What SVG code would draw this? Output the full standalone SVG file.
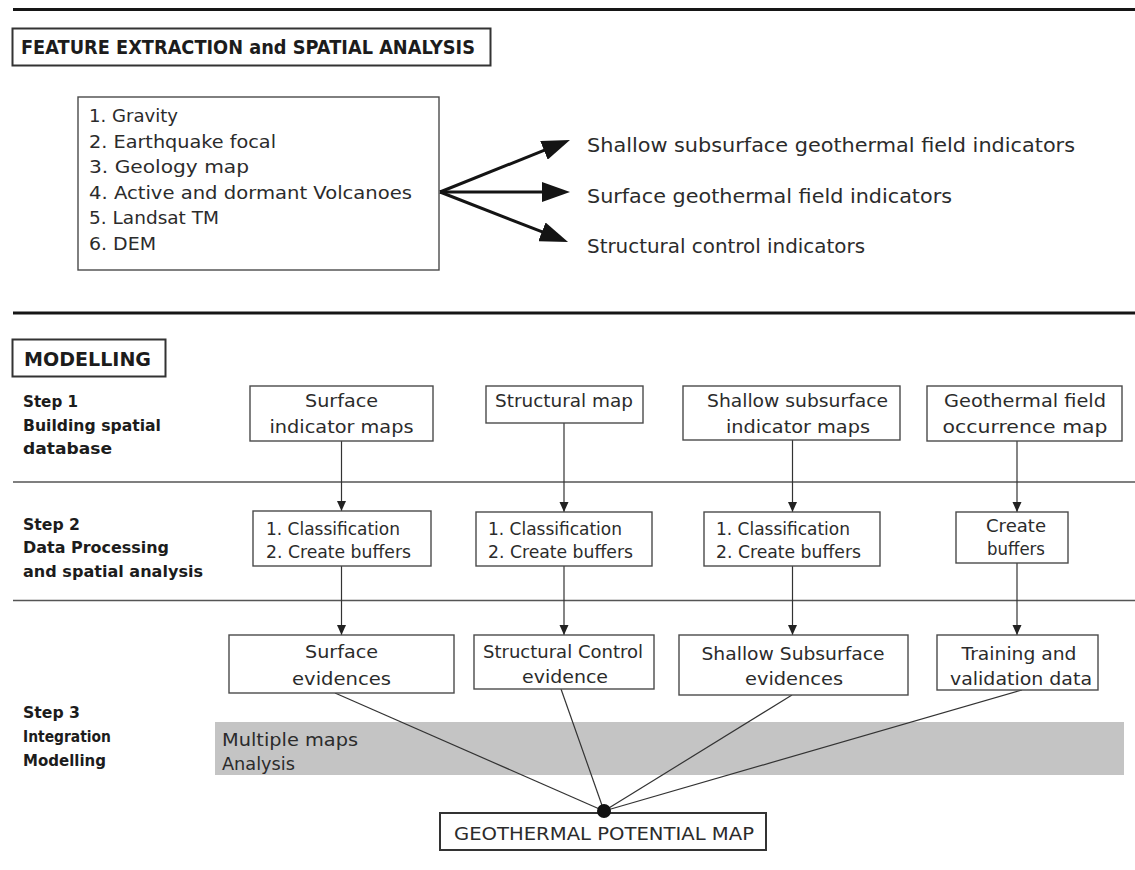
<svg xmlns="http://www.w3.org/2000/svg" width="1135" height="870" viewBox="0 0 1135 870">
<style>
  .t{font-family:"DejaVu Sans","Liberation Sans",sans-serif;font-size:18px;fill:#2b2b2b}
  .tc{text-anchor:middle}
  .b{font-family:"DejaVu Sans","Liberation Sans",sans-serif;font-weight:bold;fill:#1c1c1c}
  .big{font-family:"DejaVu Sans","Liberation Sans",sans-serif;font-size:20px;fill:#2b2b2b}
  .box{fill:#fff;stroke:#4a4a4a;stroke-width:1.4}
  .hbox{fill:#fff;stroke:#333;stroke-width:2}
  .rule{stroke:#161616;stroke-width:3}
  .thin{stroke:#555;stroke-width:1.3}
  .conn{stroke:#333;stroke-width:1.2;fill:none}
  .fan{stroke:#141414;stroke-width:3;fill:none}
</style>
<defs>
  <marker id="big" markerUnits="userSpaceOnUse" markerWidth="28" markerHeight="20" refX="8" refY="10" orient="auto">
    <path d="M0,0 L28,10 L0,20 z" fill="#141414"/>
  </marker>
  <marker id="sm" markerUnits="userSpaceOnUse" markerWidth="10" markerHeight="10" refX="10" refY="5" orient="auto">
    <path d="M0,0.5 L10,5 L0,9.5 z" fill="#222"/>
  </marker>
</defs>
<rect width="1135" height="870" fill="#fff"/>

<g id="rules">
  <line class="rule" x1="13" y1="9.5" x2="1135" y2="9.5"/>
  <line class="rule" x1="13" y1="313" x2="1135" y2="313"/>
  <line class="thin" x1="13" y1="482" x2="1135" y2="482"/>
  <line class="thin" x1="13" y1="600.5" x2="1135" y2="600.5"/>
</g>

<g id="title-feature">
  <rect class="hbox" x="12.5" y="28.5" width="478" height="37"/>
  <text class="b" x="21" y="54" font-size="20" textLength="454" lengthAdjust="spacingAndGlyphs">FEATURE EXTRACTION and SPATIAL ANALYSIS</text>
</g>

<g id="inputs">
  <rect class="box" x="78" y="97" width="361" height="173"/>
  <text class="t" x="89" y="122" textLength="89" lengthAdjust="spacingAndGlyphs">1. Gravity</text>
  <text class="t" x="89" y="148" textLength="187" lengthAdjust="spacingAndGlyphs">2. Earthquake focal</text>
  <text class="t" x="89" y="173" textLength="160" lengthAdjust="spacingAndGlyphs">3. Geology map</text>
  <text class="t" x="89" y="199" textLength="323" lengthAdjust="spacingAndGlyphs">4. Active and dormant Volcanoes</text>
  <text class="t" x="89" y="224" textLength="130" lengthAdjust="spacingAndGlyphs">5. Landsat TM</text>
  <text class="t" x="89" y="250" textLength="67" lengthAdjust="spacingAndGlyphs">6. DEM</text>
</g>

<g id="out-shallow"><text class="big" x="587" y="152" textLength="488" lengthAdjust="spacingAndGlyphs">Shallow subsurface geothermal field indicators</text></g>
<g id="out-surface"><text class="big" x="587" y="203" textLength="365" lengthAdjust="spacingAndGlyphs">Surface geothermal field indicators</text></g>
<g id="out-structural"><text class="big" x="587" y="253" textLength="278" lengthAdjust="spacingAndGlyphs">Structural control indicators</text></g>

<g id="title-modelling">
  <rect class="hbox" x="12.5" y="339.5" width="153" height="37"/>
  <text class="b" x="24" y="366" font-size="20" textLength="127" lengthAdjust="spacingAndGlyphs">MODELLING</text>
</g>

<g id="step1-label" class="b" font-size="16.5">
  <text x="23" y="407" textLength="55" lengthAdjust="spacingAndGlyphs">Step 1</text>
  <text x="23" y="431" textLength="138" lengthAdjust="spacingAndGlyphs">Building spatial</text>
  <text x="23" y="454" textLength="89" lengthAdjust="spacingAndGlyphs">database</text>
</g>
<g id="step2-label" class="b" font-size="16.5">
  <text x="23" y="530" textLength="57" lengthAdjust="spacingAndGlyphs">Step 2</text>
  <text x="23" y="553" textLength="146" lengthAdjust="spacingAndGlyphs">Data Processing</text>
  <text x="23" y="577" textLength="180" lengthAdjust="spacingAndGlyphs">and spatial analysis</text>
</g>
<g id="step3-label" class="b" font-size="16.5">
  <text x="23" y="718" textLength="57" lengthAdjust="spacingAndGlyphs">Step 3</text>
  <text x="23" y="742" textLength="88" lengthAdjust="spacingAndGlyphs">Integration</text>
  <text x="23" y="766" textLength="83" lengthAdjust="spacingAndGlyphs">Modelling</text>
</g>

<g id="band">
  <rect x="215" y="722" width="909" height="53" fill="#c4c4c4"/>
  <text class="t" x="222" y="746" textLength="136" lengthAdjust="spacingAndGlyphs">Multiple maps</text>
  <text class="t" x="222" y="770" textLength="73" lengthAdjust="spacingAndGlyphs">Analysis</text>
</g>

<g id="connectors">
  <line class="fan" x1="440" y1="192" x2="551.4" y2="147.4" marker-end="url(#big)"/>
  <line class="fan" x1="440" y1="192" x2="550" y2="192" marker-end="url(#big)"/>
  <line class="fan" x1="440" y1="192" x2="549.4" y2="234.7" marker-end="url(#big)"/>
  <line class="conn" x1="341.5" y1="441" x2="341.5" y2="511" marker-end="url(#sm)"/>
  <line class="conn" x1="564" y1="423" x2="564" y2="512" marker-end="url(#sm)"/>
  <line class="conn" x1="792.5" y1="440" x2="792.5" y2="512" marker-end="url(#sm)"/>
  <line class="conn" x1="1017" y1="441" x2="1017" y2="512" marker-end="url(#sm)"/>
  <line class="conn" x1="341.5" y1="566" x2="341.5" y2="635" marker-end="url(#sm)"/>
  <line class="conn" x1="564" y1="566" x2="564" y2="635" marker-end="url(#sm)"/>
  <line class="conn" x1="792.5" y1="566" x2="792.5" y2="635" marker-end="url(#sm)"/>
  <line class="conn" x1="1017" y1="563" x2="1017" y2="635" marker-end="url(#sm)"/>
  <line class="conn" x1="335" y1="693" x2="604" y2="811"/>
  <line class="conn" x1="561" y1="689" x2="604" y2="811"/>
  <line class="conn" x1="792" y1="695" x2="604" y2="811"/>
  <line class="conn" x1="1022" y1="690" x2="604" y2="811"/>
</g>

<g id="surface-maps">
  <rect class="box" x="250" y="386" width="183" height="55"/>
  <text class="t tc" x="341.5" y="407" textLength="73" lengthAdjust="spacingAndGlyphs">Surface</text>
  <text class="t tc" x="341.5" y="433" textLength="144" lengthAdjust="spacingAndGlyphs">indicator maps</text>
</g>
<g id="structural-map">
  <rect class="box" x="486" y="386" width="157" height="37"/>
  <text class="t tc" x="564" y="407" textLength="138" lengthAdjust="spacingAndGlyphs">Structural map</text>
</g>
<g id="shallow-maps">
  <rect class="box" x="683" y="386" width="217" height="54"/>
  <text class="t tc" x="797.5" y="407" textLength="181" lengthAdjust="spacingAndGlyphs">Shallow subsurface</text>
  <text class="t tc" x="798" y="433" textLength="144" lengthAdjust="spacingAndGlyphs">indicator maps</text>
</g>
<g id="occurrence-map">
  <rect class="box" x="927" y="386" width="195" height="55"/>
  <text class="t tc" x="1025" y="407" textLength="162" lengthAdjust="spacingAndGlyphs">Geothermal field</text>
  <text class="t tc" x="1025" y="433" textLength="165" lengthAdjust="spacingAndGlyphs">occurrence map</text>
</g>

<g id="proc-surface">
  <rect class="box" x="253" y="511" width="178" height="55"/>
  <text class="t" x="266" y="535" textLength="134" lengthAdjust="spacingAndGlyphs">1. Classification</text>
  <text class="t" x="266" y="558" textLength="145" lengthAdjust="spacingAndGlyphs">2. Create buffers</text>
</g>
<g id="proc-structural">
  <rect class="box" x="476" y="512" width="176" height="54"/>
  <text class="t" x="488" y="535" textLength="134" lengthAdjust="spacingAndGlyphs">1. Classification</text>
  <text class="t" x="488" y="558" textLength="145" lengthAdjust="spacingAndGlyphs">2. Create buffers</text>
</g>
<g id="proc-shallow">
  <rect class="box" x="704" y="512" width="176" height="54"/>
  <text class="t" x="716" y="535" textLength="134" lengthAdjust="spacingAndGlyphs">1. Classification</text>
  <text class="t" x="716" y="558" textLength="145" lengthAdjust="spacingAndGlyphs">2. Create buffers</text>
</g>
<g id="proc-occurrence">
  <rect class="box" x="956" y="512" width="112" height="51"/>
  <text class="t tc" x="1016" y="532" textLength="60" lengthAdjust="spacingAndGlyphs">Create</text>
  <text class="t tc" x="1016" y="555" textLength="58" lengthAdjust="spacingAndGlyphs">buffers</text>
</g>

<g id="ev-surface">
  <rect class="box" x="229" y="635" width="225" height="58"/>
  <text class="t tc" x="341.5" y="658" textLength="73" lengthAdjust="spacingAndGlyphs">Surface</text>
  <text class="t tc" x="341.5" y="685" textLength="99" lengthAdjust="spacingAndGlyphs">evidences</text>
</g>
<g id="ev-structural">
  <rect class="box" x="474" y="635" width="180" height="54"/>
  <text class="t tc" x="563" y="658" textLength="160" lengthAdjust="spacingAndGlyphs">Structural Control</text>
  <text class="t tc" x="565" y="683" textLength="86" lengthAdjust="spacingAndGlyphs">evidence</text>
</g>
<g id="ev-shallow">
  <rect class="box" x="679" y="635" width="229" height="60"/>
  <text class="t tc" x="793" y="660" textLength="183" lengthAdjust="spacingAndGlyphs">Shallow Subsurface</text>
  <text class="t tc" x="794" y="685" textLength="98" lengthAdjust="spacingAndGlyphs">evidences</text>
</g>
<g id="training-data">
  <rect class="box" x="937" y="635" width="161" height="55"/>
  <text class="t tc" x="1019" y="660" textLength="115" lengthAdjust="spacingAndGlyphs">Training and</text>
  <text class="t tc" x="1021" y="685" textLength="142" lengthAdjust="spacingAndGlyphs">validation data</text>
</g>

<g id="potential-map">
  <rect class="hbox" x="440" y="813" width="326" height="37" stroke-width="1.8"/>
  <text class="t" x="454" y="840" font-size="20" textLength="300" lengthAdjust="spacingAndGlyphs">GEOTHERMAL POTENTIAL MAP</text>
  <circle cx="604" cy="811" r="7" fill="#111"/>
</g>
</svg>
